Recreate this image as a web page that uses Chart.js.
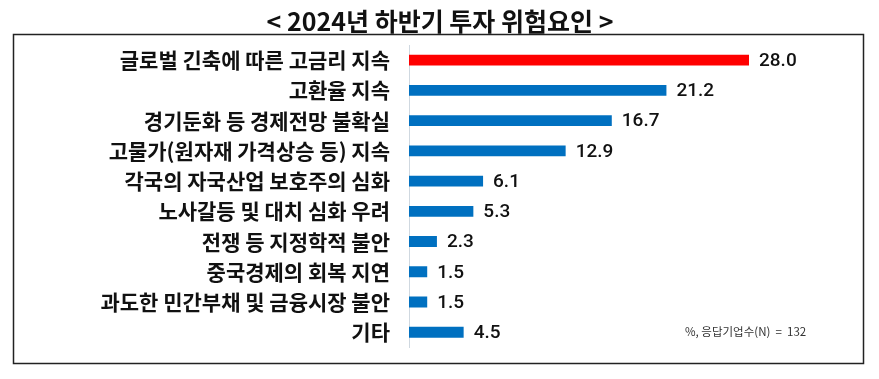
<!DOCTYPE html>
<html><head><meta charset="utf-8">
<script src="https://cdn.jsdelivr.net/npm/chart.js@4/dist/chart.umd.min.js"></script>
<style>html,body{margin:0;padding:0;background:#fff;}#wrap{width:879px;height:379px;position:relative;}</style>
</head><body><div id="wrap"><canvas id="c" width="879" height="379"></canvas></div>
<script>
const titleText = '< 2024년 하반기 투자 위험요인 >';
const noteText = '%, 응답기업수(N)  =  132';
const categories = ['글로벌 긴축에 따른 고금리 지속','고환율 지속','경기둔화 등 경제전망 불확실','고물가(원자재 가격상승 등) 지속','각국의 자국산업 보호주의 심화','노사갈등 및 대치 심화 우려','전쟁 등 지정학적 불안','중국경제의 회복 지연','과도한 민간부채 및 금융시장 불안','기타'];
const values = [28.0, 21.2, 16.7, 12.9, 6.1, 5.3, 2.3, 1.5, 1.5, 4.5];
const highlightIndex = 0;
const colors = values.map((v,i)=> i===highlightIndex ? '#FF0000' : '#0070C0');

const decor = {
  id:'decor',
  beforeDraw(chart){
    const ctx = chart.ctx;
    ctx.save();
    ctx.fillStyle='#fff';
    ctx.fillRect(0,0,chart.width,chart.height);
    ctx.strokeStyle='#222';
    ctx.lineWidth=1.5;
    ctx.strokeRect(13.5,34.5,850,329);
    ctx.restore();
  },
  afterDraw(chart){
    const ctx = chart.ctx;
    ctx.save();
    ctx.fillStyle='#111';
    ctx.font='bold 25px "Noto Sans CJK KR"';
    ctx.textAlign='center';
    ctx.textBaseline='middle';
    ctx.fillText(titleText, 440, 21);
    // value labels
    const meta = chart.getDatasetMeta(0);
    ctx.font='500 19px Roboto';
    ctx.textAlign='left';
    ctx.fillStyle='#111';
    meta.data.forEach((bar,i)=>{
      ctx.fillText(values[i].toFixed(1), bar.x + 10, bar.y + 1);
    });
    // note
    ctx.font='11.5px "Noto Sans CJK KR"';
    ctx.fillStyle='#333';
    ctx.fillText(noteText, 685, 332);
    ctx.restore();
  }
};

new Chart(document.getElementById('c'), {
  type:'bar',
  data:{labels:categories, datasets:[{data:values, backgroundColor:colors, borderWidth:0, barPercentage:0.72, categoryPercentage:0.5}]},
  options:{
    indexAxis:'y', responsive:false, animation:false, devicePixelRatio:1,
    layout:{padding:{left:20,right:45,top:45,bottom:24}},
    plugins:{legend:{display:false}, tooltip:{enabled:false}, title:{display:false}},
    scales:{
      x:{display:false, min:0, max:35},
      y:{
        grid:{display:false, drawTicks:false},
        border:{display:true, color:'#cfd8e0', width:1},
        ticks:{color:'#111', padding:19, font:{family:'"Noto Sans CJK KR"', size:21, weight:'bold'}},
        afterFit(scale){ scale.width = 389; }
      }
    }
  },
  plugins:[decor]
});
</script></body></html>
